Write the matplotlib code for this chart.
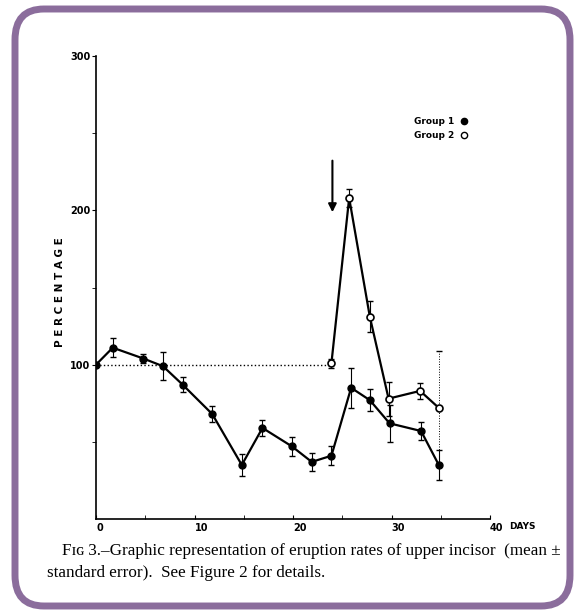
import matplotlib.pyplot as plt
import numpy as np
from matplotlib.patches import FancyBboxPatch
from matplotlib.lines import Line2D

# Data (days, percentage, standard error)
days1 = [0, 1.7, 4.8, 6.8, 8.8, 11.8, 14.8, 16.9, 19.9, 21.9, 23.9, 25.9, 27.8, 29.8, 33.0, 34.8]
group1 = [100, 111, 104, 99, 87, 68, 35, 59, 47, 37, 41, 85, 77, 62, 57, 35]
err1 = [0, 6, 3, 9, 5, 5, 7, 5, 6, 6, 6, 13, 7, 12, 6, 10]

days2 = [23.9, 25.7, 27.8, 29.7, 32.9, 34.8]
group2 = [101, 208, 131, 78, 83, 72]
err2 = [3, 6, 10, 11, 5, 37]

baseline_days = [0, 23.9]
baseline = [100, 100]

x_ticks = [0, 10, 20, 30, 40]
y_ticks = [100, 200, 300]

caption1 = "F\u026a\u0262 3.\u2013Graphic representation of eruption rates of upper incisor  (mean \u00b1"
caption2 = "standard error).  See Figure 2 for details."

fig = plt.figure(figsize=(5.78, 6.15), dpi=100)
ax = fig.add_axes([0.1661, 0.1561, 0.6817, 0.7528])

# baseline
ax.plot(baseline_days, baseline, color='black', linestyle=':', linewidth=1.0)

# group 1
ax.errorbar(days1, group1, yerr=err1, fmt='none', ecolor='black', elinewidth=0.8, capsize=2)
ax.plot(days1, group1, color='black', linewidth=1.6, marker='o', markersize=5,
        markerfacecolor='black', zorder=3)

# group 2
ax.errorbar(days2[:-1], group2[:-1], yerr=err2[:-1], fmt='none', ecolor='black',
            elinewidth=0.8, capsize=2)
eb = ax.errorbar(days2[-1:], group2[-1:], yerr=err2[-1:], fmt='none', ecolor='black',
                 elinewidth=0.7, capsize=2)
eb[2][0].set_linestyle(':')
ax.plot(days2, group2, color='black', linewidth=1.6, marker='o', markersize=5,
        markerfacecolor='white', markeredgewidth=1.2, zorder=4)

# arrow marking the switch
ax.annotate('', xy=(24, 197), xytext=(24, 234),
            arrowprops=dict(arrowstyle='-|>', color='black', lw=1.5, mutation_scale=12))

ax.set_xlim(0, 40)
ax.set_ylim(0, 300)
ax.set_xticks(x_ticks)
ax.set_xticks([5, 15, 25, 35], minor=True)
ax.set_yticks(y_ticks)
ax.set_yticks([50, 150, 250], minor=True)
ax.set_xticklabels([str(t) for t in x_ticks], fontsize=7, fontweight='bold', ha='left')
ax.set_yticklabels([str(t) for t in y_ticks], fontsize=7, fontweight='bold')
ax.tick_params(axis='x', which='both', direction='in', length=3, pad=3)
ax.tick_params(axis='y', which='both', direction='out', length=3, pad=1)
ax.spines['top'].set_visible(False)
ax.spines['right'].set_visible(False)
ax.spines['left'].set_linewidth(1.2)
ax.spines['bottom'].set_linewidth(1.2)

ax.text(1.048, -0.0165, 'DAYS', transform=ax.transAxes, fontsize=6.5,
        fontweight='bold', ha='left', va='center')

fig.text(60 / 578, 1 - 292 / 615, 'P E R C E N T A G E', rotation=90, fontsize=7.5,
         fontweight='bold', ha='center', va='center')

handles = [Line2D([], [], color='black', marker='o', linestyle='none', markersize=4.5),
           Line2D([], [], color='black', marker='o', markerfacecolor='white',
                  linestyle='none', markersize=4.5)]
ax.legend(handles, ['Group 1', 'Group 2'], markerfirst=False, frameon=False,
          loc='upper right', bbox_to_anchor=(0.965, 0.885), handlelength=1,
          handletextpad=0.5, labelspacing=0.5, prop=dict(size=6.5, weight='bold'))

fig.text(62 / 578, 1 - 551 / 615, caption1, family='Liberation Serif', fontsize=12.3,
         ha='left', va='center')
fig.text(47 / 578, 1 - 573 / 615, caption2, family='Liberation Serif', fontsize=12.3,
         ha='left', va='center')

border = FancyBboxPatch((15 / 578, 9 / 615), 555 / 578, 597 / 615,
                        boxstyle='round,pad=0,rounding_size=0.05',
                        transform=fig.transFigure, facecolor='none',
                        edgecolor='#8b6d9c', linewidth=5, zorder=10)
fig.patches.append(border)

fig.savefig('out.png', dpi=100)
